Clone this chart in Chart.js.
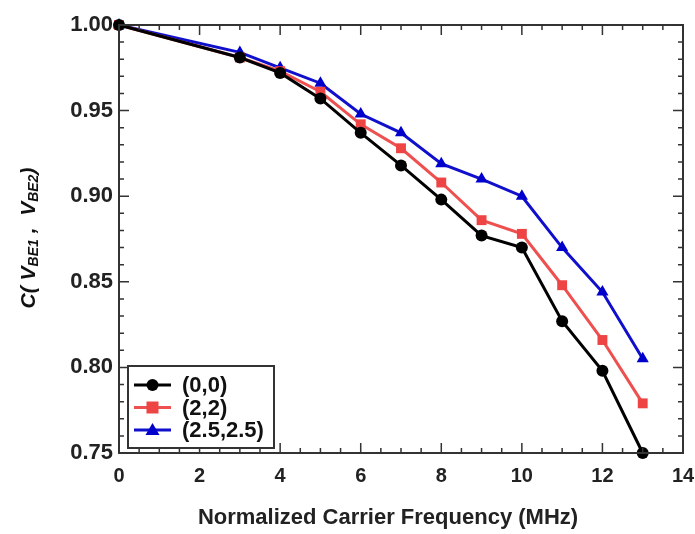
<!DOCTYPE html>
<html>
<head>
<meta charset="utf-8">
<script src="https://cdn.jsdelivr.net/npm/chart.js"></script>
<style>
  html, body { margin: 0; padding: 0; background: #fff; }
  #wrap { width: 695px; height: 534px; }
</style>
</head>
<body>
<div id="wrap"><canvas id="c"></canvas></div>
<script>
// carrier frequency (MHz)
const freqs = [0, 3, 4, 5, 6, 7, 8, 9, 10, 11, 12, 13];

// correlation values per bias pair
const corr00 = [1.000, 0.981, 0.972, 0.957, 0.937, 0.918, 0.898, 0.877, 0.870, 0.827, 0.798, 0.750];
const corr22 = [1.000, 0.981, 0.973, 0.961, 0.942, 0.928, 0.908, 0.886, 0.878, 0.848, 0.816, 0.779];
const corr2525 = [1.000, 0.984, 0.975, 0.966, 0.948, 0.937, 0.919, 0.910, 0.900, 0.870, 0.844, 0.805];

const seriesNames = ["(0,0)", "(2,2)", "(2.5,2.5)"];
const xTicks = [0, 2, 4, 6, 8, 10, 12, 14];
const yTicks = [0.75, 0.80, 0.85, 0.90, 0.95, 1.00];
const xTitle = "Normalized Carrier Frequency (MHz)";

const FONT = "'Liberation Sans', Arial, Helvetica, sans-serif";

const toPts = (ys) => freqs.map((x, i) => ({ x, y: ys[i] }));

// frame, inward ticks, axis titles and legend inside the plot
const decor = {
  id: "decor",
  afterDraw(chart) {
    const { ctx, chartArea: a, scales } = chart;
    const xs = scales.x, ys = scales.y;
    ctx.save();
    ctx.strokeStyle = "#333";
    ctx.lineWidth = 2;
    ctx.strokeRect(a.left, a.top, a.right - a.left, a.bottom - a.top);

    ctx.lineWidth = 1.5;
    ctx.beginPath();
    for (let v = 0; v <= 14.001; v += 0.5) {
      const px = xs.getPixelForValue(v);
      const len = Math.abs(v % 2) < 1e-6 ? 10 : 5;
      ctx.moveTo(px, a.bottom); ctx.lineTo(px, a.bottom - len);
      ctx.moveTo(px, a.top); ctx.lineTo(px, a.top + len);
    }
    for (let k = 0; k <= 25; k++) {
      const v = 0.75 + k * 0.01;
      const py = ys.getPixelForValue(v);
      const len = k % 5 === 0 ? 10 : 5;
      ctx.moveTo(a.left, py); ctx.lineTo(a.left + len, py);
      ctx.moveTo(a.right, py); ctx.lineTo(a.right - len, py);
    }
    ctx.stroke();

    // x axis title
    ctx.fillStyle = "#222";
    ctx.font = `bold 22px ${FONT}`;
    ctx.textAlign = "center";
    ctx.textBaseline = "middle";
    ctx.fillText(xTitle, 388, 518);
    ctx.textAlign = "left";

    // y axis title with subscripts
    ctx.translate(29, 238);
    ctx.rotate(-Math.PI / 2);
    ctx.fillStyle = "#111";
    const parts = [
      ["C( V", 21, 0], ["BE1", 14, 5], [" ,  V", 21, 0], ["BE2", 14, 5], [")", 21, 0]
    ];
    let total = 0;
    parts.forEach(p => { ctx.font = `italic bold ${p[1]}px ${FONT}`; total += ctx.measureText(p[0]).width; });
    let cx = -total / 2;
    parts.forEach(p => {
      ctx.font = `italic bold ${p[1]}px ${FONT}`;
      ctx.fillText(p[0], cx, p[2]);
      cx += ctx.measureText(p[0]).width;
    });
    ctx.restore();

    // legend box
    ctx.save();
    const bx = 128, by = 366, bw = 146, bh = 82;
    ctx.fillStyle = "#fff";
    ctx.fillRect(bx, by, bw, bh);
    ctx.strokeStyle = "#333";
    ctx.lineWidth = 2;
    ctx.strokeRect(bx, by, bw, bh);
    chart.data.datasets.forEach((ds, i) => {
      const yy = by + 19 + i * 22.5;
      ctx.strokeStyle = ds.borderColor;
      ctx.lineWidth = 3;
      ctx.beginPath();
      ctx.moveTo(134, yy); ctx.lineTo(171, yy);
      ctx.stroke();
      ctx.fillStyle = ds.pointBackgroundColor;
      const mx = 152.5;
      ctx.beginPath();
      if (ds.pointStyle === "circle") ctx.arc(mx, yy, 6, 0, Math.PI * 2);
      else if (ds.pointStyle === "rect") ctx.rect(mx - 6, yy - 6, 12, 12);
      else { ctx.moveTo(mx, yy - 7); ctx.lineTo(mx + 7, yy + 5); ctx.lineTo(mx - 7, yy + 5); ctx.closePath(); }
      ctx.fill();
      ctx.fillStyle = "#111";
      ctx.font = `bold 22px ${FONT}`;
      ctx.textBaseline = "middle";
      ctx.fillText(ds.label, 182, yy + 1);
    });
    ctx.restore();
  }
};

new Chart(document.getElementById("c"), {
  type: "line",
  data: {
    datasets: [
      {
        label: seriesNames[0], data: toPts(corr00),
        borderColor: "#000", backgroundColor: "#000", pointBackgroundColor: "#000",
        borderWidth: 3, pointStyle: "circle", pointRadius: 6, pointBorderWidth: 0
      },
      {
        label: seriesNames[1], data: toPts(corr22),
        borderColor: "#ee5050", backgroundColor: "#ee4444", pointBackgroundColor: "#ee4444",
        borderWidth: 3, pointStyle: "rect", pointRadius: 7, pointBorderWidth: 0
      },
      {
        label: seriesNames[2], data: toPts(corr2525),
        borderColor: "#1010cc", backgroundColor: "#0000cc", pointBackgroundColor: "#0000cc",
        borderWidth: 3, pointStyle: "triangle", pointRadius: 7, pointBorderWidth: 0
      }
    ]
  },
  options: {
    responsive: true,
    maintainAspectRatio: false,
    animation: false,
    clip: false,
    layout: { padding: { top: 25, right: 12, left: 0, bottom: 0 } },
    plugins: { legend: { display: false }, tooltip: { enabled: false } },
    scales: {
      x: {
        type: "linear", min: 0, max: 14,
        afterBuildTicks: (s) => { s.ticks = xTicks.map(v => ({ value: v })); },
        afterFit: (s) => { s.height = 81; s.paddingRight = 0; s.paddingLeft = 0; },
        grid: { display: false, drawTicks: false },
        border: { display: false },
        ticks: { color: "#222", font: { family: FONT, size: 20, weight: "bold" }, padding: 11, maxRotation: 0 }
      },
      y: {
        type: "linear", min: 0.75, max: 1.0,
        afterBuildTicks: (s) => { s.ticks = yTicks.map(v => ({ value: v })); },
        afterFit: (s) => { s.width = 119; s.paddingTop = 0; s.paddingBottom = 0; },
        grid: { display: false, drawTicks: false },
        border: { display: false },
        ticks: {
          color: "#222", font: { family: FONT, size: 22, weight: "bold" }, padding: 6,
          callback: (v) => v.toFixed(2)
        }
      }
    }
  },
  plugins: [decor]
});
</script>
</body>
</html>
